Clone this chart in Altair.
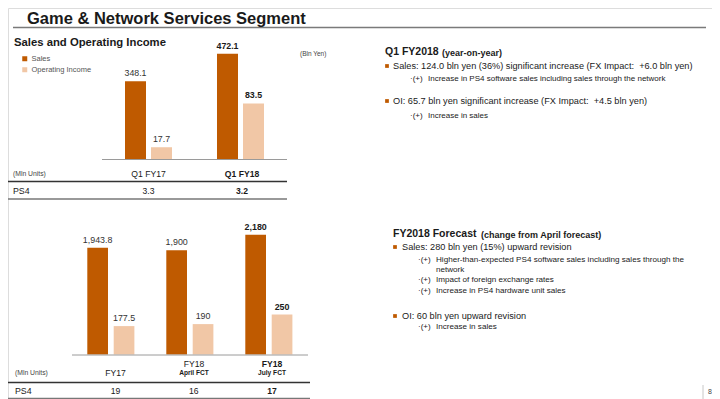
import altair as alt
import pandas as pd

FONT = "Liberation Sans"
SALES_C = "#BF5A00"
OI_C = "#F1C7A6"
TXT = "#1a1a1a"
OFF = 8  # page margin

# ---------------- data ----------------
series_names = ["Sales", "Operating Income"]

q_periods = ["Q1 FY17", "Q1 FY18"]
q_sales = [348.1, 472.1]
q_oi = [17.7, 83.5]
q_ps4 = [3.3, 3.2]

fy_periods = ["FY17", "FY18 April FCT", "FY18 July FCT"]
fy_main = ["FY17", "FY18", "FY18"]
fy_sub = ["", "April FCT", "July FCT"]
fy_sales = [1943.8, 1900, 2180]
fy_oi = [177.5, 190, 250]
fy_ps4 = [19, 16, 17]

q_notes = [
    "Sales: 124.0 bln yen (36%) significant increase (FX Impact:\u00a0 +6.0 bln yen)",
    "Increase in PS4 software sales including sales through the network",
    "OI: 65.7 bln yen significant increase (FX Impact:\u00a0 +4.5 bln yen)",
    "Increase in sales",
]
fy_notes = [
    "Sales: 280 bln yen (15%) upward revision",
    "Higher-than-expected PS4 software sales including sales through the",
    "network",
    "Impact of foreign exchange rates",
    "Increase in PS4 hardware unit sales",
    "OI: 60 bln yen upward revision",
    "Increase in sales",
]


def fmt(v):
    return f"{v:,.1f}" if v != int(v) else f"{int(v):,}"


def frame(periods, values, name):
    n = len(periods)
    return pd.DataFrame({
        "period": periods,
        "value": values,
        "series": name,
        "label": [fmt(v) for v in values],
        "emph": [i == n - 1 for i in range(n)],
    })


dummy = pd.DataFrame({"d": [0]})

color_scale = alt.Scale(domain=series_names, range=[SALES_C, OI_C])
legend = alt.Legend(orient="none", legendX=13, legendY=47, title=None,
                    symbolType="square", symbolSize=25, symbolStrokeWidth=0,
                    labelFontSize=7.5, labelFont=FONT, labelColor="#555555",
                    rowPadding=2, padding=0, labelOffset=3)


def bar_layers(df, x_range, pad_inner, y_domain, y_range, size):
    x = alt.X("period:N", axis=None,
              scale=alt.Scale(type="band", domain=list(df["period"]), range=x_range,
                              paddingInner=pad_inner, paddingOuter=0))
    y = alt.Y("value:Q", axis=None,
              scale=alt.Scale(domain=y_domain, range=y_range, nice=False, zero=True))
    base = alt.Chart(df).encode(x=x, y=y)
    bars = base.mark_bar().encode(
        color=alt.Color("series:N", scale=color_scale, legend=legend))
    lab_n = base.transform_filter("!datum.emph").mark_text(
        font=FONT, fontSize=size, color="#333333", baseline="alphabetic", dy=-5
    ).encode(text="label:N")
    lab_b = base.transform_filter("datum.emph").mark_text(
        font=FONT, fontSize=size, fontWeight="bold", color="#1a1a1a",
        baseline="alphabetic", dy=-5
    ).encode(text="label:N")
    return [bars, lab_n, lab_b]


def row_layers(df, field, x_range, y, size, fmt_str=None, always_bold=False):
    x = alt.X("period:N", axis=None,
              scale=alt.Scale(type="point", domain=list(df["period"]), range=x_range, padding=0))
    enc_text = alt.Text(f"{field}:Q", format=fmt_str) if fmt_str else alt.Text(f"{field}:N")
    out = []
    for bold in ([True] if always_bold else [False, True]):
        c = alt.Chart(df)
        if not always_bold:
            c = c.transform_filter("datum.emph" if bold else "!datum.emph")
        out.append(c.mark_text(font=FONT, fontSize=size, color=TXT,
                               fontWeight="bold" if bold else "normal", baseline="middle")
                   .encode(x=x, y=alt.value(y - OFF), text=enc_text))
    return out


def T(s, x, y, size, bold=False, color=TXT, align="left"):
    return alt.Chart(dummy).mark_text(
        text=s, font=FONT, fontSize=size, fontWeight="bold" if bold else "normal",
        color=color, fill=color, align=align, baseline="middle"
    ).encode(x=alt.value(x - OFF), y=alt.value(y - OFF))


def hline(x1, x2, y, color, w):
    return alt.Chart(dummy).mark_rule(color=color, strokeWidth=w).encode(
        x=alt.value(x1 - OFF), x2=alt.value(x2 - OFF), y=alt.value(y - OFF))


def vline(x, y1, y2, color, w):
    return alt.Chart(dummy).mark_rule(color=color, strokeWidth=w).encode(
        x=alt.value(x - OFF), y=alt.value(y1 - OFF), y2=alt.value(y2 - OFF))


def bullet(x, y):
    return alt.Chart(dummy).mark_square(size=14, color=SALES_C, opacity=1).encode(
        x=alt.value(x - OFF), y=alt.value(y - OFF))


layers = []

# ---------- top chart (Q1) ----------
qs = frame(q_periods, q_sales, "Sales")
qo = frame(q_periods, q_oi, "Operating Income")
layers += bar_layers(qs, [117, 230], 0.7717, [0, 500], [151, 39.5], 8.8)
layers += bar_layers(qo, [143, 256], 0.7717, [0, 100], [151, 84.5], 8.8)

q_tab = pd.DataFrame({"period": q_periods, "ps4": q_ps4, "emph": [False, True]})
layers += row_layers(q_tab, "period", [140.5, 234], 174, 8.6)
layers += row_layers(q_tab, "ps4", [140.5, 234], 191, 8.6, fmt_str=".1f")

# ---------- bottom chart (FY) ----------
fs = frame(fy_periods, fy_sales, "Sales")
fo = frame(fy_periods, fy_oi, "Operating Income")
layers += bar_layers(fs, [79.3, 258], 0.738, [0, 2000], [346.5, 236.7], 8.9)
layers += bar_layers(fo, [105.7, 284.4], 0.738, [0, 200], [346.5, 314.5], 8.9)

fy_tab = pd.DataFrame({"period": fy_periods, "main": fy_main, "sub": fy_sub,
                       "ps4": fy_ps4, "emph": [False, False, True],
                       "single": [s == "" for s in fy_sub]})
layers += row_layers(fy_tab[fy_tab["single"]], "main", [107.5, 107.5], 373, 8.6)
two = fy_tab[~fy_tab["single"]]
layers += row_layers(two, "main", [186, 264], 364, 8.6)
layers += row_layers(two, "sub", [186, 264], 373, 6.6, always_bold=True)
layers += row_layers(fy_tab, "ps4", [107.5, 264], 391, 8.6, fmt_str="d")

# ---------- lines ----------
layers += [
    hline(13, 706, 27.5, "#7a7a7a", 1.6),
    hline(102, 287, 159.5, "#9a9a9a", 1),
    hline(5, 287, 181.5, "#333333", 1.3),
    hline(5, 287, 199, "#777777", 1.6),
    hline(72, 308, 355, "#9a9a9a", 1),
    hline(8, 310, 382.5, "#333333", 1.3),
    hline(8, 310, 398.5, "#777777", 1.6),
    vline(703, 385, 399, "#c8c8c8", 1),
]

# ---------- titles & labels ----------
layers += [
    T("Game & Network Services Segment", 27, 18.5, 16.5, bold=True),
    T("Sales and Operating Income", 14, 42.5, 11.3, bold=True),
    T("(Bln Yen)", 300, 54, 6.5, color="#444444"),
    T("(Mln Units)", 13, 174, 6.8, color="#444444"),
    T("PS4", 13, 191, 8.8),
    T("(Mln Units)", 15, 373, 6.8, color="#444444"),
    T("PS4", 15, 391, 8.8),
    T("8", 712, 392, 7, color="#444444", align="right"),
]

# ---------- right panel: Q1 ----------
layers += [
    T("Q1 FY2018", 385, 52, 10.5, bold=True),
    T("(year-on-year)", 442, 52.5, 9, bold=True),
    bullet(387, 66), T(q_notes[0], 393, 66, 9.2),
    T("·(+)", 410, 79, 8, color="#222222"), T(q_notes[1], 428, 79, 8),
    bullet(387, 101), T(q_notes[2], 393, 101, 9.2),
    T("·(+)", 410, 116, 8, color="#222222"), T(q_notes[3], 428, 116, 8),
]

# ---------- right panel: FY forecast ----------
layers += [
    T("FY2018 Forecast", 393, 234, 10.5, bold=True),
    T("(change from April forecast)", 481, 234.5, 9, bold=True),
    bullet(395, 247), T(fy_notes[0], 402, 247, 9.2),
    T("·(+)", 418, 260, 8, color="#222222"), T(fy_notes[1], 436, 260, 8.1),
    T(fy_notes[2], 436, 270, 8.1),
    T("·(+)", 418, 280, 8, color="#222222"), T(fy_notes[3], 436, 280, 8.1),
    T("·(+)", 418, 291, 8, color="#222222"), T(fy_notes[4], 436, 291, 8.1),
    bullet(395, 316), T(fy_notes[5], 402, 316, 9.2),
    T("·(+)", 418, 327, 8, color="#222222"), T(fy_notes[6], 436, 327, 8.1),
]

chart = (
    alt.layer(*layers)
    .resolve_scale(x="independent", y="independent")
    .properties(width=704, height=391, padding=0,
                autosize=alt.AutoSizeParams(type="none"))
    .configure_view(stroke=None)
    .configure(background="white")
)

chart.save("out.html", embed_options={"renderer": "svg", "actions": False})
